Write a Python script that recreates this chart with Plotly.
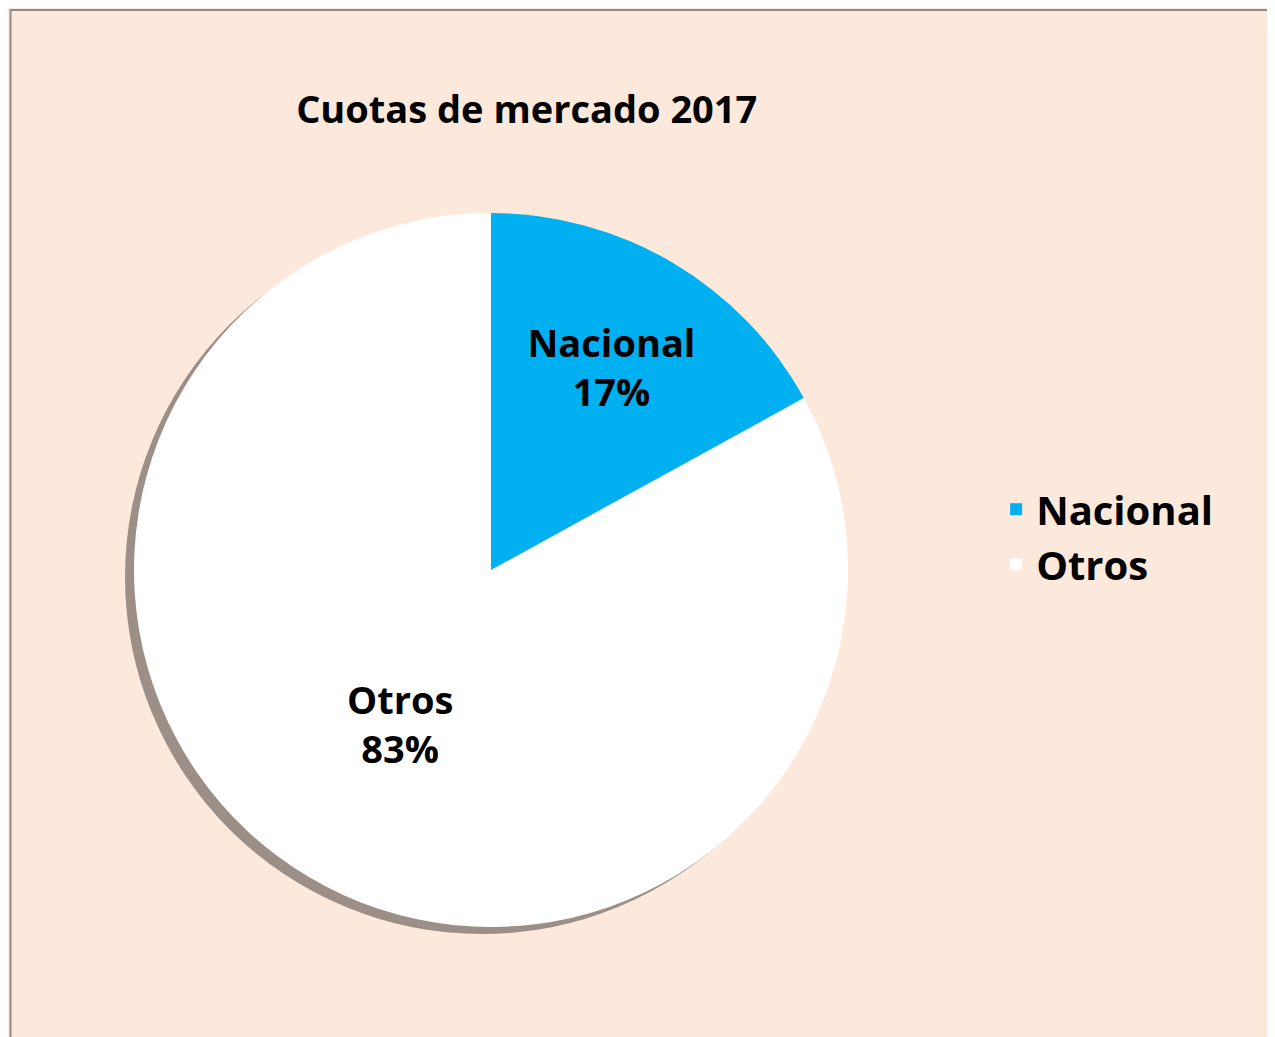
import plotly.graph_objects as go

labels = ["Nacional", "Otros"]
values = [17, 83]
colors = ["#00B0F0", "#FFFFFF"]

W, H = 1275, 1037
cx, cy, r = 483, 562, 357

def dom(x0, y0):
    return dict(x=[(x0 - r) / W, (x0 + r) / W], y=[1 - (y0 + r) / H, 1 - (y0 - r) / H])

fig = go.Figure()
# shadow behind the pie
fig.add_trace(go.Pie(
    values=[1], labels=["sombra"], marker=dict(colors=["#9C8F87"]),
    domain=dom(cx - 9, cy + 7), textinfo="none", hoverinfo="skip",
    showlegend=False, sort=False,
))
fig.add_trace(go.Pie(
    labels=labels, values=values, sort=False, direction="clockwise", rotation=0,
    marker=dict(colors=colors, line=dict(width=0)),
    domain=dom(cx, cy),
    texttemplate="<b>%{label}<br>%{percent:.0%}</b>",
    textposition="inside", insidetextorientation="horizontal",
    textfont=dict(size=38, color="black", family="Open Sans"),
))

fig.update_layout(
    width=W, height=H,
    paper_bgcolor="#FCE9DC", plot_bgcolor="#FCE9DC",
    margin=dict(l=0, r=0, t=0, b=0),
    font=dict(family="Open Sans", color="black"),
    title=dict(text="<b>Cuotas de mercado 2017</b>", x=0.226, xanchor="left",
               y=0.902, yanchor="middle", font=dict(size=38)),
    legend=dict(x=0.775, y=0.49, xanchor="left", yanchor="middle",
                font=dict(size=40, weight="bold"), itemsizing="constant"),
    shapes=[dict(type="rect", xref="paper", yref="paper", x0=0.002, y0=0.003,
                 x1=0.998, y1=0.998, line=dict(color="#8C8C8C", width=2))],
)

fig.write_html("out.html")
